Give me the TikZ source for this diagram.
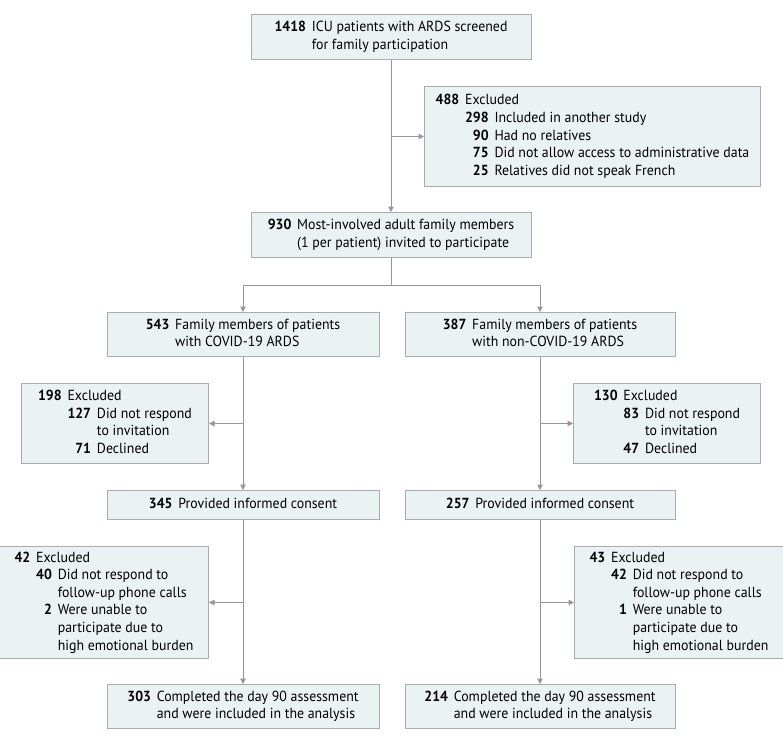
\documentclass[tikz,border=0pt]{standalone}
\usepackage{fontspec}
\setmainfont[FakeStretch=0.95]{PT Sans}
\usepackage{tikz}
\usetikzlibrary{arrows.meta}
\usetikzlibrary{positioning}
\usetikzlibrary{calc}
\definecolor{boxfill}{RGB}{234,242,244}
\definecolor{boxline}{RGB}{168,172,174}
\definecolor{arrowline}{RGB}{150,150,150}
\tikzstyle{stage} = [rectangle, draw=boxline, line width=1pt, fill=boxfill, inner sep=0pt, font=\fontsize{14.6pt}{17.6pt}\selectfont]
\tikzstyle{link} = [draw=arrowline, line width=1pt]
\tikzstyle{arrow} = [link, -{Triangle[width=5.5pt,length=5.5pt]}]

\begin{document}
\begin{tikzpicture}
	\useasboundingbox (0pt,0pt) rectangle (783pt,-740pt);

	% screening and invitation
	\node[stage, anchor=north, minimum width=280pt, minimum height=45pt] at (391pt,-14pt) (Screened){\begin{tabular}{@{}r@{\hspace{0.4em}}l@{}}\textbf{1418} & ICU patients with ARDS screened\\ & for family participation\end{tabular}};
	\node[stage, anchor=north west, minimum width=336pt, minimum height=100pt] at ([xshift=33pt, yshift=-26pt]Screened.south) (Excl-1){\begin{tabular}{@{}r@{\hspace{0.4em}}r@{\hspace{0.4em}}l@{}}\textbf{488} & \multicolumn{2}{@{}l@{}}{Excluded}\\
		& \textbf{298} & Included in another study\\
		& \textbf{90} & Had no relatives\\
		& \textbf{75} & Did not allow access to administrative data\\
		& \textbf{25} & Relatives did not speak French\end{tabular}};
	\node[stage, anchor=north, minimum width=280pt, minimum height=45pt] at ([yshift=-152pt]Screened.south) (Invited){\begin{tabular}{@{}r@{\hspace{0.4em}}l@{}}\textbf{930} & Most-involved adult family members\\ & (1 per patient) invited to participate\end{tabular}};
	\coordinate (Split) at ([yshift=-27pt]Invited.south);

	% two groups
	\node[stage, anchor=north, minimum width=272pt, minimum height=44pt] at ([xshift=-148pt, yshift=-54pt]Invited.south) (Covid){\begin{tabular}{@{}r@{\hspace{0.4em}}l@{}}\textbf{543} & Family members of patients\\ & with COVID-19 ARDS\end{tabular}};
	\node[stage, anchor=north, minimum width=270pt, minimum height=44pt] at ([xshift=149pt, yshift=-54pt]Invited.south) (NonCovid){\begin{tabular}{@{}r@{\hspace{0.4em}}l@{}}\textbf{387} & Family members of patients\\ & with non-COVID-19 ARDS\end{tabular}};

	\node[stage, anchor=north east, minimum width=187pt, minimum height=80pt] at ([xshift=-34pt, yshift=-26pt]Covid.south) (Excl-2){\begin{tabular}{@{}r@{\hspace{0.4em}}r@{\hspace{0.4em}}l@{}}\textbf{198} & \multicolumn{2}{@{}l@{}}{Excluded}\\
		& \textbf{127} & Did not respond\\
		& & to invitation\\
		& \textbf{71} & Declined\end{tabular}};
	\node[stage, anchor=north west, minimum width=187pt, minimum height=80pt] at ([xshift=33pt, yshift=-26pt]NonCovid.south) (Excl-3){\begin{tabular}{@{}r@{\hspace{0.4em}}r@{\hspace{0.4em}}l@{}}\textbf{130} & \multicolumn{2}{@{}l@{}}{Excluded}\\
		& \textbf{83} & Did not respond\\
		& & to invitation\\
		& \textbf{47} & Declined\end{tabular}};

	\node[stage, anchor=north, minimum width=272pt, minimum height=29pt] at ([yshift=-133pt]Covid.south) (Consent-1){\begin{tabular}{@{}r@{\hspace{0.4em}}l@{}}\textbf{345} & Provided informed consent\end{tabular}};
	\node[stage, anchor=north, minimum width=270pt, minimum height=29pt] at ([yshift=-133pt]NonCovid.south) (Consent-2){\begin{tabular}{@{}r@{\hspace{0.4em}}l@{}}\textbf{257} & Provided informed consent\end{tabular}};

	\node[stage, anchor=north east, minimum width=209pt, minimum height=112pt] at ([xshift=-34pt, yshift=-26pt]Consent-1.south) (Excl-4){\begin{tabular}{@{}r@{\hspace{0.4em}}r@{\hspace{0.4em}}l@{}}\textbf{42} & \multicolumn{2}{@{}l@{}}{Excluded}\\
		& \textbf{40} & Did not respond to\\
		& & follow-up phone calls\\
		& \textbf{2} & Were unable to\\
		& & participate due to\\
		& & high emotional burden\end{tabular}};
	\node[stage, anchor=north west, minimum width=209pt, minimum height=112pt] at ([xshift=34pt, yshift=-26pt]Consent-2.south) (Excl-5){\begin{tabular}{@{}r@{\hspace{0.4em}}r@{\hspace{0.4em}}l@{}}\textbf{43} & \multicolumn{2}{@{}l@{}}{Excluded}\\
		& \textbf{42} & Did not respond to\\
		& & follow-up phone calls\\
		& \textbf{1} & Were unable to\\
		& & participate due to\\
		& & high emotional burden\end{tabular}};

	\node[stage, anchor=north, minimum width=272pt, minimum height=44pt] at ([yshift=-164pt]Consent-1.south) (Analysed-1){\begin{tabular}{@{}r@{\hspace{0.4em}}l@{}}\textbf{303} & Completed the day 90 assessment\\ & and were included in the analysis\end{tabular}};
	\node[stage, anchor=north, minimum width=270pt, minimum height=44pt] at ([yshift=-164pt]Consent-2.south) (Analysed-2){\begin{tabular}{@{}r@{\hspace{0.4em}}l@{}}\textbf{214} & Completed the day 90 assessment\\ & and were included in the analysis\end{tabular}};

	% connectors
	\draw[arrow] (Screened.south) -- (Invited.north);
	\draw[arrow] (Screened.south |- Excl-1.west) -- (Excl-1.west);
	\draw[link] (Invited.south) -- (Split);
	\draw[arrow] (Split) -| (Covid.north);
	\draw[arrow] (Split) -| (NonCovid.north);

	\draw[arrow] (Covid.south) -- (Consent-1.north);
	\draw[arrow] (Covid.south |- Excl-2.east) -- (Excl-2.east);
	\draw[arrow] (NonCovid.south) -- (Consent-2.north);
	\draw[arrow] (NonCovid.south |- Excl-3.west) -- (Excl-3.west);

	\draw[arrow] (Consent-1.south) -- (Analysed-1.north);
	\draw[arrow] (Consent-1.south |- Excl-4.east) -- (Excl-4.east);
	\draw[arrow] (Consent-2.south) -- (Analysed-2.north);
	\draw[arrow] (Consent-2.south |- Excl-5.west) -- (Excl-5.west);

\end{tikzpicture}
\end{document}
